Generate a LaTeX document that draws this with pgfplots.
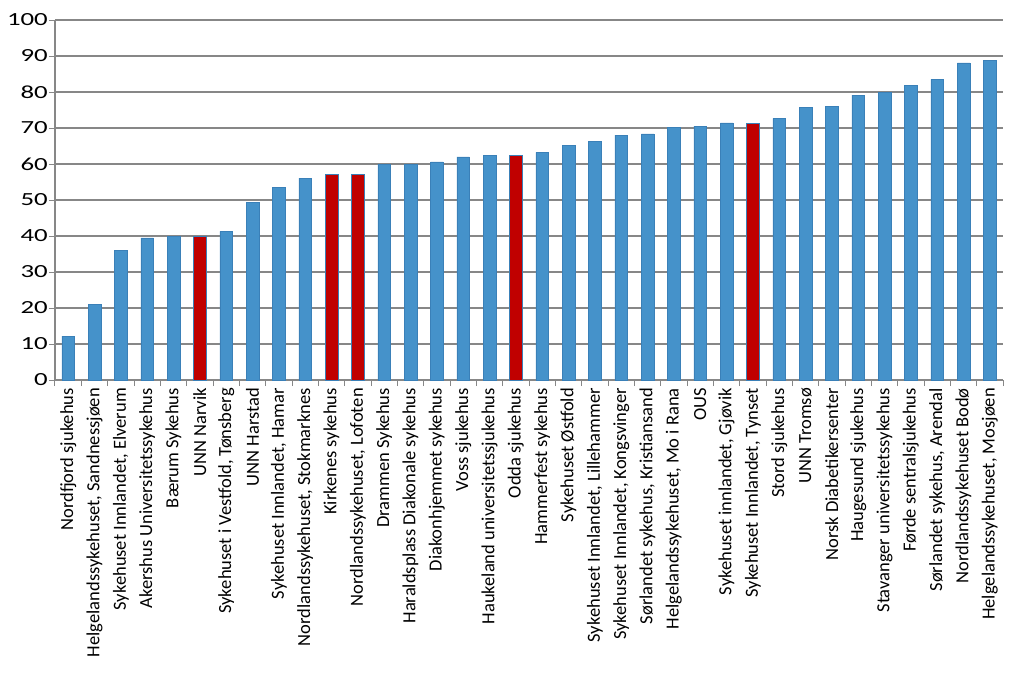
\documentclass[border=0pt]{standalone}
\usepackage{fontspec}
\setmainfont{Carlito}
\usepackage{pgfplots}
\pgfplotsset{compat=1.18}
\definecolor{barblue}{HTML}{4592CA}
\definecolor{bluedge}{HTML}{3A80B8}
\definecolor{barred}{HTML}{C00000}
\definecolor{gridgray}{HTML}{878787}
\begin{document}
\begin{tikzpicture}
\begin{axis}[
    scale only axis,
    width=948pt, height=360pt,
    xmin=-0.5, xmax=35.5,
    ymin=0, ymax=100,
    axis x line*=bottom, axis y line*=left,
    axis line style={gridgray, line width=1.2pt},
    ytick={0,10,...,100},
    ymajorgrids=true,
    grid style={gridgray, line width=1.3pt},
    tick align=outside,
    major tick length=6pt,
    minor tick length=6pt,
    tick style={gridgray, line width=1pt},
    major x tick style={draw=none},
    xtick={0,...,35},
    minor xtick={-0.5,0.5,...,35.5},
    xticklabels={{Nordfjord sjukehus},{Helgelandssykehuset, Sandnessjøen},{Sykehuset Innlandet, Elverum},{Akershus Universitetssykehus},{Bærum Sykehus},{UNN Narvik},{Sykehuset i Vestfold, Tønsberg},{UNN Harstad},{Sykehuset Innlandet, Hamar},{Nordlandssykehuset, Stokmarknes},{Kirkenes sykehus},{Nordlandssykehuset, Lofoten},{Drammen Sykehus},{Haraldsplass Diakonale sykehus},{Diakonhjemmet sykehus},{Voss sjukehus},{Haukeland universitetssjukehus},{Odda sjukehus},{Hammerfest sykehus},{Sykehuset Østfold},{Sykehuset Innlandet, Lillehammer},{Sykehuset Innlandet, Kongsvinger},{Sørlandet sykehus, Kristiansand},{Helgelandssykehuset, Mo i Rana},{OUS},{Sykehuset innlandet, Gjøvik},{Sykehuset Innlandet, Tynset},{Stord sjukehus},{UNN Tromsø},{Norsk Diabetikersenter},{Haugesund sjukehus},{Stavanger universitetssykehus},{Førde sentralsjukehus},{Sørlandet sykehus, Arendal},{Nordlandssykehuset Bodø},{Helgelandssykehuset, Mosjøen}},
    xticklabel style={rotate=90, anchor=east, font=\fontsize{18.5}{19}\selectfont, inner sep=2pt},
    yticklabel={\scalebox{1.45}[1]{\pgfmathprintnumber{\tick}}},
    yticklabel style={font=\fontsize{18.5}{19}\selectfont, inner sep=1pt},
    /pgf/number format/assume math mode=true,
]
% blue bars
\addplot[ybar, bar width=12.5pt, bar shift=0pt, fill=barblue, draw=bluedge, line width=0.5pt]
  coordinates {(0,12.2) (1,21.0) (2,36.1) (3,39.5) (4,39.9) (6,41.3) (7,49.4) (8,53.6) (9,56.1)
  (12,60.0) (13,60.0) (14,60.6) (15,62.0) (16,62.5) (18,63.2) (19,65.2) (20,66.2) (21,68.0)
  (22,68.4) (23,70.1) (24,70.5) (25,71.4) (27,72.7) (28,75.8) (29,76.1) (30,79.1) (31,80.0)
  (32,81.8) (33,83.5) (34,88.1) (35,88.7)};
% red bars
\addplot[ybar, bar width=12.5pt, bar shift=0pt, fill=barred, draw=bluedge, line width=0.5pt]
  coordinates {(5,40.0) (10,57.2) (11,57.2) (17,62.4) (26,71.3)};
\end{axis}
\path ([shift={(-55pt,-295pt)}]current axis.south west) rectangle ([shift={(21pt,20pt)}]current axis.north east);
\end{tikzpicture}
\end{document}
